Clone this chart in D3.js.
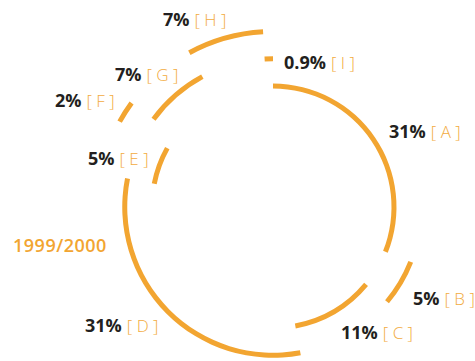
<!DOCTYPE html>
<html>
<head>
<meta charset="utf-8">
<script src="https://cdn.jsdelivr.net/npm/d3@7"></script>
<style>
  html, body { margin: 0; padding: 0; background: #fff; }
  svg { display: block; font-family: "Open Sans", "Noto Sans", sans-serif; }
</style>
</head>
<body>
<div id="chart"></div>
<script>
// segments, clockwise from 12 o'clock
var categories = ["A", "B", "C", "D", "E", "F", "G", "H", "I"];
var shares = [31, 5, 11, 31, 5, 2, 7, 7, 0.9];
var shareLabels = ["31%", "5%", "11%", "31%", "5%", "2%", "7%", "7%", "0.9%"];
// which ring each segment sits on (0 = inner, 2 = outer)
var rings = [0, 1, 0, 1, 0, 2, 1, 2, 1];
var yearLabel = "1999/2000";

// hand placed label anchors (left x, baseline y)
var labelPos = [
    [389, 138], [413, 305], [341, 339], [85, 332], [88, 165],
    [55, 107], [115, 81], [163, 26], [284, 69]
];

var width = 475,
    height = 361,
    cx = 273,
    cy = 207,
    thickness = 5,
    arcColor = "#f2a531",
    bracketColor = "#f2ab3e",
    textColor = "#231f20";

var ds = categories.map(function(c, i) {
    return { category: c, measure: shares[i], label: shareLabels[i], ring: rings[i], pos: labelPos[i] };
});

var rScale = d3.scaleLinear()
    .domain([0, 2])
    .range([121, 175.5]);

var pie = d3.pie()
    .sort(null)
    .value(function(d) { return d.measure; });

var arc = d3.arc()
    .innerRadius(function(d) { return rScale(d.data.ring) - thickness / 2; })
    .outerRadius(function(d) { return rScale(d.data.ring) + thickness / 2; });

var svg = d3.select("#chart")
    .append("svg")
    .attr("width", width)
    .attr("height", height);

var plot = svg.append("g")
    .attr("transform", "translate(" + cx + "," + cy + ")");

plot.selectAll("path")
    .data(pie(ds))
    .enter()
    .append("path")
    .attr("d", arc)
    .attr("fill", arcColor);

var labels = svg.selectAll("text.seg")
    .data(ds)
    .enter()
    .append("text")
    .attr("class", "seg")
    .attr("x", function(d) { return d.pos[0]; })
    .attr("y", function(d) { return d.pos[1]; })
    .style("font-size", "18px");

labels.append("tspan")
    .attr("font-weight", "bold")
    .attr("fill", textColor)
    .text(function(d) { return d.label; });

labels.append("tspan")
    .attr("fill", bracketColor)
    .attr("font-weight", 300)
    .attr("dx", 5)
    .style("font-size", "17px")
    .text(function(d) { return "[ " + d.category + " ]"; });

svg.append("text")
    .attr("x", 13)
    .attr("y", 252)
    .attr("fill", arcColor)
    .attr("font-weight", 600)
    .style("font-size", "18px")
    .style("letter-spacing", "0.5px")
    .text(yearLabel);
</script>
</body>
</html>
